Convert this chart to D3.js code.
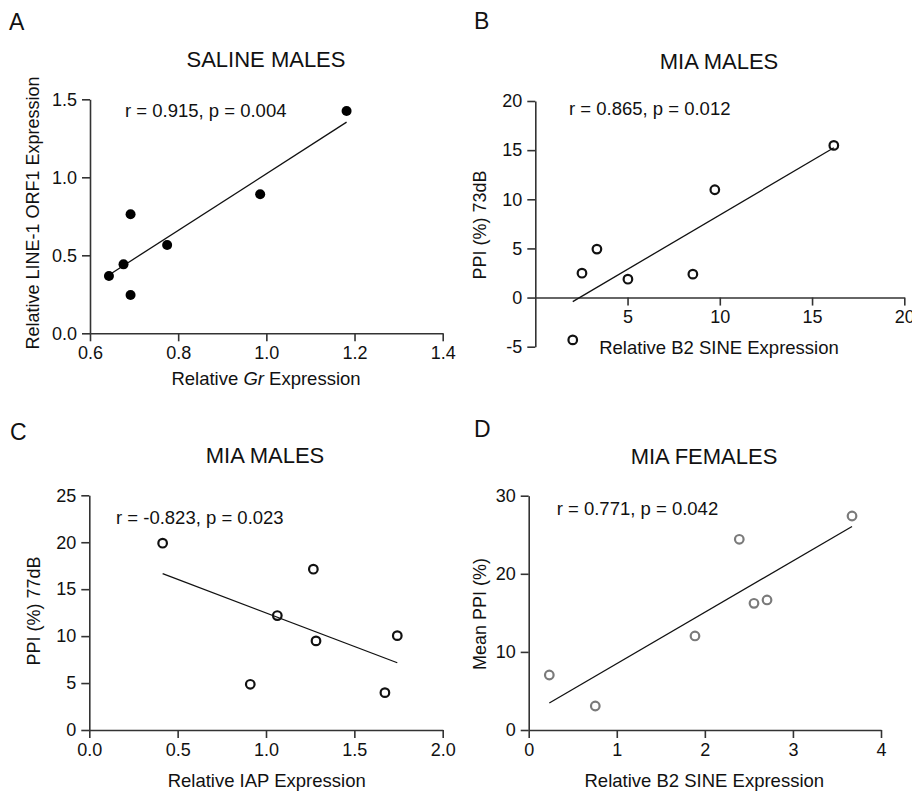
<!DOCTYPE html>
<html lang="en">

<head>
    <meta charset="UTF-8">
    <title>Correlations</title>
    <script src="https://d3js.org/d3.v7.min.js"></script>
    <style>
        body { margin: 0; background: #fff; }
        svg { font-family: "Liberation Sans", Arial, Helvetica, sans-serif; }
    </style>
</head>

<body>
    <svg class="svgs" width="912" height="791"></svg>

    <script>
        const svg = d3.select('.svgs')

        // values
        const salineGr = [0.643, 0.676, 0.692, 0.692, 0.775, 0.986, 1.182];
        const salineLine1 = [0.367, 0.442, 0.763, 0.245, 0.566, 0.891, 1.425];

        const miaB2 = [2.03, 2.53, 3.34, 5.02, 8.54, 9.73, 16.18];
        const miaPPI73 = [-4.31, 2.48, 4.93, 1.87, 2.38, 10.97, 15.48];

        const miaIAP = [0.415, 0.911, 1.064, 1.268, 1.283, 1.673, 1.743];
        const miaPPI77 = [19.9, 4.87, 12.19, 17.13, 9.49, 3.98, 10.05];

        const femB2 = [0.234, 0.756, 1.888, 2.391, 2.558, 2.706, 3.671];
        const femPPI = [7.04, 3.07, 12.04, 24.42, 16.22, 16.65, 27.40];

        // tick labels
        const ticksAx = [0.6, 0.8, 1.0, 1.2, 1.4];
        const ticksAy = [0, 0.5, 1.0, 1.5];
        const ticksBx = [5, 10, 15, 20];
        const ticksBy = [-5, 0, 5, 10, 15, 20];
        const ticksCx = [0, 0.5, 1.0, 1.5, 2.0];
        const ticksCy = [0, 5, 10, 15, 20, 25];
        const ticksDx = [0, 1, 2, 3, 4];
        const ticksDy = [0, 10, 20, 30];

        const axisColor = '#333';
        const fmt1 = d3.format('.1f');
        const fmt0 = d => String(d);

        const panels = [
            {
                letter: 'A', lx: 9, ly: 30,
                title: 'SALINE MALES', tx: 266, ty: 67,
                stat: 'r = 0.915, p = 0.004', sx: 125, sy: 117,
                xs: salineGr, ys: salineLine1,
                xDomain: [0.6, 1.4], xRange: [90, 442.7], xTicks: ticksAx, xFmt: fmt1,
                yDomain: [0, 1.5], yRange: [333.3, 99.3], yTicks: ticksAy, yFmt: fmt1,
                xLabel: ['Relative ', 'Gr', ' Expression'], xlx: 266, xly: 385,
                yLabel: 'Relative LINE-1 ORF1 Expression', ylx: 38.5, yly: 213,
                mark: 'filled'
            },
            {
                letter: 'B', lx: 474, ly: 29,
                title: 'MIA MALES', tx: 719, ty: 69,
                stat: 'r = 0.865, p = 0.012', sx: 569, sy: 115,
                xs: miaB2, ys: miaPPI73,
                xDomain: [0, 20], xRange: [535.3, 904.3], xTicks: ticksBx, xFmt: fmt0,
                yDomain: [-5, 20], yRange: [346.7, 101], yTicks: ticksBy, yFmt: fmt0,
                xAt: 0,
                xLabel: ['Relative B2 SINE Expression'], xlx: 719, xly: 353.5,
                yLabel: 'PPI (%) 73dB', ylx: 485.5, yly: 225,
                mark: 'open', color: '#111'
            },
            {
                letter: 'C', lx: 10, ly: 440,
                title: 'MIA MALES', tx: 265, ty: 462.5,
                stat: 'r = -0.823, p = 0.023', sx: 116, sy: 524,
                xs: miaIAP, ys: miaPPI77,
                xDomain: [0, 2], xRange: [89.3, 442.7], xTicks: ticksCx, xFmt: fmt1,
                yDomain: [0, 25], yRange: [730, 495.3], yTicks: ticksCy, yFmt: fmt0,
                xLabel: ['Relative IAP Expression'], xlx: 266.7, xly: 786.5,
                yLabel: 'PPI (%) 77dB', ylx: 39.5, yly: 611,
                mark: 'open', color: '#111'
            },
            {
                letter: 'D', lx: 474, ly: 437,
                title: 'MIA FEMALES', tx: 704, ty: 464,
                stat: 'r = 0.771, p = 0.042', sx: 556.7, sy: 515,
                xs: femB2, ys: femPPI,
                xDomain: [0, 4], xRange: [528.7, 881], xTicks: ticksDx, xFmt: fmt0,
                yDomain: [0, 30], yRange: [730, 495.7], yTicks: ticksDy, yFmt: fmt0,
                xLabel: ['Relative B2 SINE Expression'], xlx: 704.3, xly: 786.5,
                yLabel: 'Mean PPI (%)', ylx: 485.8, yly: 614,
                mark: 'open', color: '#7a7a7a'
            }
        ];

        // least squares fit
        const fit = function (xs, ys) {
            const mx = d3.mean(xs), my = d3.mean(ys);
            let sxy = 0, sxx = 0;
            xs.forEach((x, i) => {
                sxy += (x - mx) * (ys[i] - my);
                sxx += (x - mx) * (x - mx);
            });
            const slope = sxy / sxx;
            return { slope: slope, icpt: my - slope * mx };
        }

        const render = function (p) {
            const g = svg.append('g');
            const xScale = d3.scaleLinear().domain(p.xDomain).range(p.xRange);
            const yScale = d3.scaleLinear().domain(p.yDomain).range(p.yRange);
            const xAxisY = yScale(p.xAt !== undefined ? p.xAt : p.yDomain[0]);

            // axes
            const xg = g.append('g')
                .attr('transform', `translate(0, ${xAxisY})`)
                .call(d3.axisBottom(xScale).tickValues(p.xTicks).tickFormat(p.xFmt)
                    .tickSize(8).tickSizeOuter(0).tickPadding(5));
            const yg = g.append('g')
                .attr('transform', `translate(${p.xRange[0]}, 0)`)
                .call(d3.axisLeft(yScale).tickValues(p.yTicks).tickFormat(p.yFmt)
                    .tickSize(8).tickSizeOuter(0).tickPadding(5));
            [xg, yg].forEach(a => {
                a.selectAll('path, line').attr('stroke', axisColor).attr('stroke-width', 1.6);
                a.selectAll('text').attr('fill', '#111').style('font-size', '18px');
            });

            // regression line
            const f = fit(p.xs, p.ys);
            const x0 = d3.min(p.xs), x1 = d3.max(p.xs);
            g.append('line')
                .attr('x1', xScale(x0)).attr('y1', yScale(f.slope * x0 + f.icpt))
                .attr('x2', xScale(x1)).attr('y2', yScale(f.slope * x1 + f.icpt))
                .attr('stroke', '#111').attr('stroke-width', 1.3);

            // points
            const pts = p.xs.map((x, i) => [x, p.ys[i]]);
            const c = g.selectAll('circle.pt').data(pts).join('circle')
                .attr('class', 'pt')
                .attr('cx', d => xScale(d[0]))
                .attr('cy', d => yScale(d[1]));
            if (p.mark === 'filled') {
                c.attr('r', 5).attr('fill', '#000');
            } else {
                c.attr('r', 4.3).attr('fill', 'none')
                    .attr('stroke', p.color).attr('stroke-width', 2.2);
            }

            // texts
            g.append('text').attr('x', p.lx).attr('y', p.ly)
                .style('font-size', '23px').attr('fill', '#111').text(p.letter);
            g.append('text').attr('x', p.tx).attr('y', p.ty)
                .attr('text-anchor', 'middle')
                .style('font-size', '22px').attr('fill', '#111').text(p.title);
            g.append('text').attr('x', p.sx).attr('y', p.sy)
                .style('font-size', '18.5px').attr('fill', '#111').text(p.stat);

            const xl = g.append('text').attr('x', p.xlx).attr('y', p.xly)
                .attr('text-anchor', 'middle')
                .style('font-size', '18.5px').attr('fill', '#111');
            p.xLabel.forEach((s, i) => {
                xl.append('tspan').text(s)
                    .style('font-style', i === 1 ? 'italic' : 'normal');
            });

            g.append('text')
                .attr('transform', `translate(${p.ylx}, ${p.yly}) rotate(-90)`)
                .attr('text-anchor', 'middle')
                .style('font-size', '18px').attr('fill', '#111').text(p.yLabel);
        }

        panels.forEach(render);
    </script>
</body>

</html>
